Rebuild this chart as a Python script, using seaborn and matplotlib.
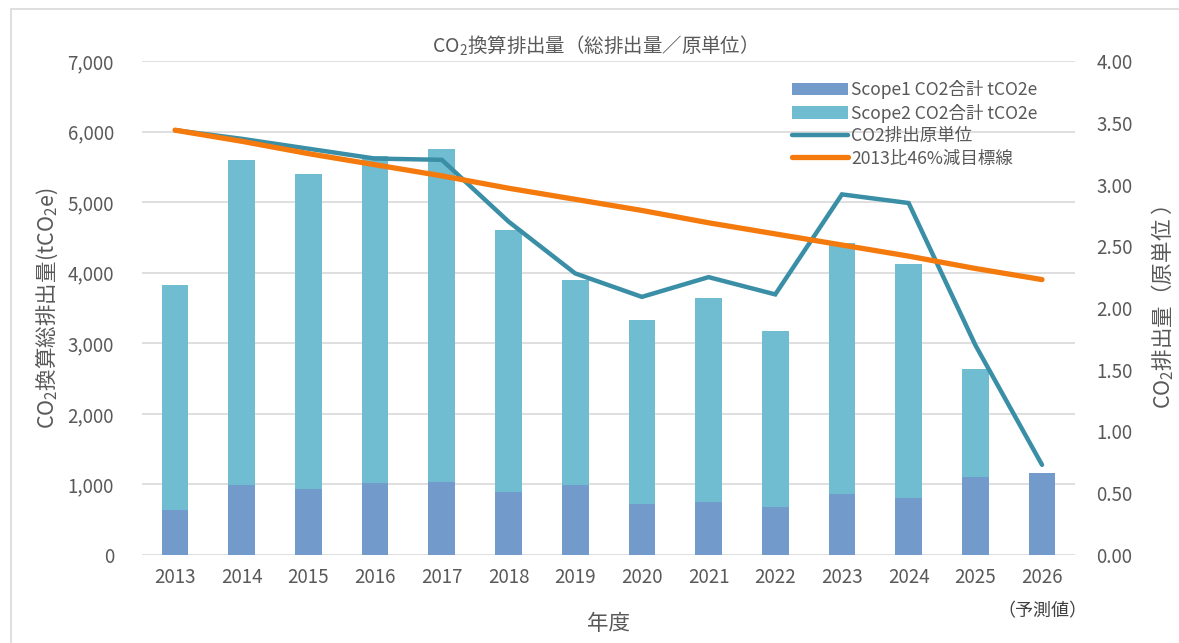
"""
CO2 emissions: stacked scope bars with intensity and reduction target lines
"""

import numpy as np
import pandas as pd
import seaborn as sns
from matplotlib import pyplot as plt
from matplotlib.patches import Rectangle

# data
years = ["2013", "2014", "2015", "2016", "2017", "2018", "2019",
         "2020", "2021", "2022", "2023", "2024", "2025", "2026"]
scope1 = [640, 990, 935, 1020, 1035, 890, 990, 725, 750, 680, 865, 805, 1100, 1160]
scope2 = [3185, 4605, 4465, 4635, 4720, 3715, 2905, 2605, 2890, 2490, 3555, 3320, 1535, 0]
intensity = [3.44, 3.37, 3.29, 3.21, 3.20, 2.70, 2.28, 2.09, 2.25, 2.11, 2.92, 2.85, 1.70, 0.73]
target = [3.44, 3.35, 3.25, 3.16, 3.07, 2.97, 2.88, 2.79, 2.69, 2.60, 2.51, 2.42, 2.32, 2.23]

df = pd.DataFrame({"year": years, "scope1": scope1, "scope2": scope2,
                   "intensity": intensity, "target": target})
df["total"] = df["scope1"] + df["scope2"]

sns.set_style("white")
plt.rcParams["font.family"] = ["Noto Sans CJK JP", "DejaVu Sans"]

GRAY = "#595959"
C_S1 = "#729ACB"
C_S2 = "#70BCD1"
C_LINE = "#3A8FA7"
C_TARGET = "#F47A0E"

fig = plt.figure(figsize=(11.79, 6.43), dpi=100)
ax = fig.add_axes([0.1202, 0.1369, 0.7919, 0.7682])

# stacked bars: total (scope2 colour) then scope1 on top of it
sns.barplot(data=df, x="year", y="total", color=C_S2, width=0.4,
            linewidth=0, saturation=1, ax=ax, label="Scope2 CO2合計 tCO2e")
sns.barplot(data=df, x="year", y="scope1", color=C_S1, width=0.4,
            linewidth=0, saturation=1, ax=ax, label="Scope1 CO2合計 tCO2e")
if ax.get_legend() is not None:
    ax.get_legend().remove()

ax.set_ylim(0, 7000)
ax.set_yticks(np.arange(0, 7001, 1000))
ax.yaxis.set_major_formatter(plt.FuncFormatter(lambda v, p: f"{int(v):,}"))
ax.grid(axis="y", color="#D9D9D9", linewidth=1.2)
ax.set_axisbelow(True)

# intensity lines on the right axis
ax2 = ax.twinx()
sns.pointplot(data=df, x="year", y="intensity", color=C_LINE, markers="",
              linewidth=3.2, ax=ax2, label="CO2排出原単位")
sns.pointplot(data=df, x="year", y="target", color=C_TARGET, markers="",
              linewidth=3.8, ax=ax2, label="2013比46%減目標線")
for ln in ax2.lines:
    ln.set_solid_capstyle("round")
    ln.set_solid_joinstyle("miter")
ax2.set_ylim(0, 4)
ax2.set_yticks(np.arange(0, 4.01, 0.5))
ax2.yaxis.set_major_formatter(plt.FuncFormatter(lambda v, p: f"{v:.2f}"))
ax.set_xlim(-0.5, 13.5)
ax2.set_xlim(-0.5, 13.5)

for a in (ax, ax2):
    for s in a.spines.values():
        s.set_visible(False)
    a.tick_params(length=0, labelsize=13.5, colors=GRAY)
ax.tick_params(axis="x", pad=9)
ax.tick_params(axis="y", pad=20)
ax2.tick_params(axis="y", pad=15)

ax.set_xlabel("年度", fontsize=15.5, color=GRAY, labelpad=18)
ax.set_ylabel("CO$_\\mathregular{2}$換算総排出量(tCO$_\\mathregular{2}$e)",
              fontsize=15.5, color=GRAY, labelpad=5)
ax2.set_ylabel("CO$_\\mathregular{2}$排出量（原単位 ）", fontsize=15.5,
               color=GRAY, labelpad=12)
fig.text(0.5, 0.928, "CO$_\\mathregular{2}$換算排出量（総排出量／原単位）",
         ha="center", va="center", fontsize=14, color=GRAY)
ax.text(13, -0.095, "（予測値）", transform=ax.get_xaxis_transform(),
        ha="center", va="top", fontsize=13, color="#404040")

# legend in the chart's order
h1, l1 = ax.get_legend_handles_labels()
h2, l2 = ax2.get_legend_handles_labels()
handles = [h1[1], h1[0]] + h2
labels = [l1[1], l1[0]] + l2
leg = ax2.legend(handles, labels, loc="upper right", bbox_to_anchor=(0.967, 0.975),
                 frameon=False, fontsize=12.6, handlelength=3.2, handletextpad=0.2,
                 labelspacing=0.25, borderaxespad=0)
for t in leg.get_texts():
    t.set_color(GRAY)

# chart border
fig.patches.append(Rectangle((0.009, -0.01), 1.2, 0.996, transform=fig.transFigure,
                             fill=False, edgecolor="#D9D9D9", linewidth=1.2))

plt.savefig("out.png", dpi=100)
